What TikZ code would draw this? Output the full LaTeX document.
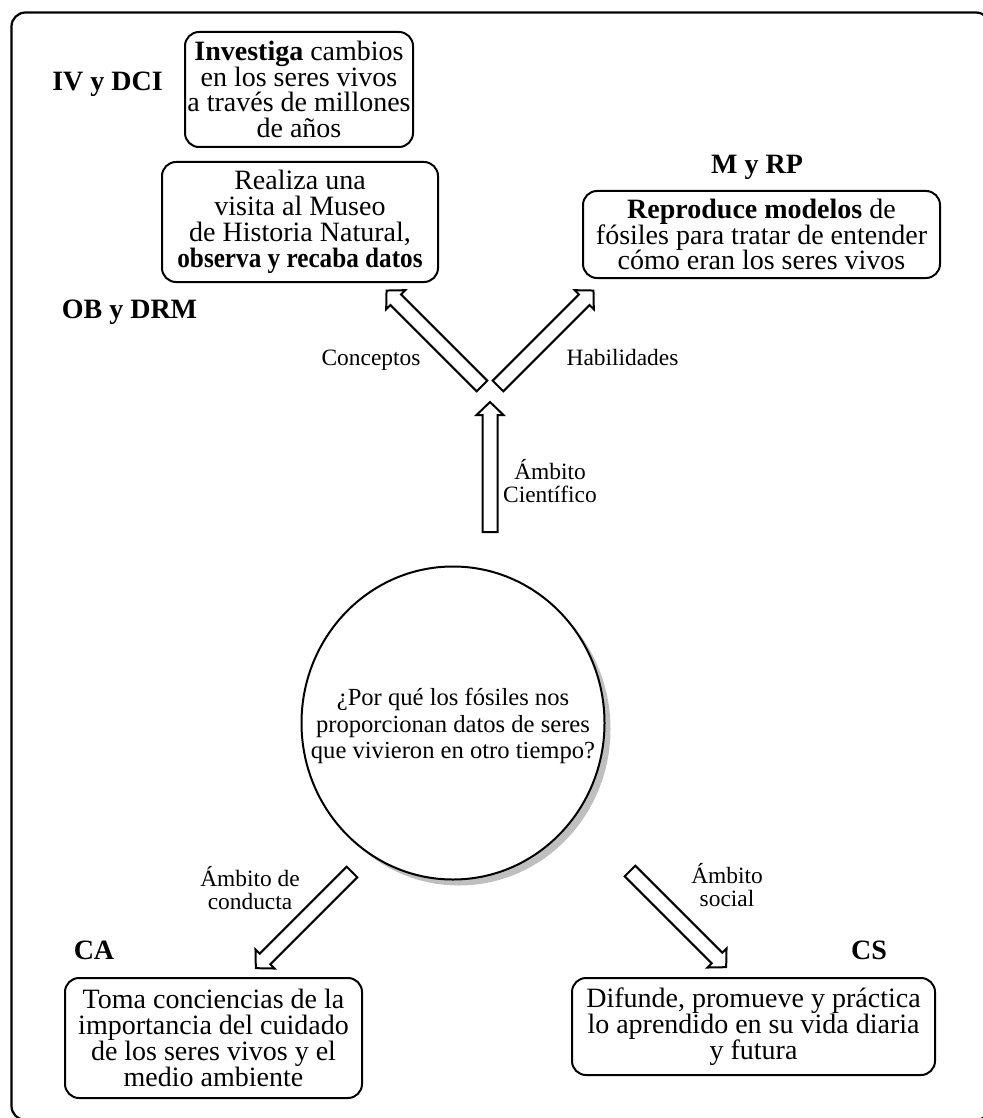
\documentclass[tikz,border=0pt]{standalone}
\usepackage{fontspec}
\usepackage{graphicx}
\setmainfont{Liberation Serif}
\usetikzlibrary{shapes.geometric,shadows}

\begin{document}
\begin{tikzpicture}[x=0.5pt,y=-0.5pt,
  box/.style={draw, line width=1pt, rounded corners=7pt, align=center,
    inner sep=0pt, fill=white, font=\fontsize{14}{12.9}\selectfont},
  tag/.style={anchor=base, font=\fontsize{14}{14}\selectfont\bfseries},
  lbl/.style={align=center, font=\fontsize{11.7}{11.5}\selectfont},
  arrowline/.style={draw, line width=1pt, fill=white, line join=miter},
  pics/blockarrow/.style={code={
    \path[arrowline] (0pt,-3.75pt) -- ({#1-6.5pt},-3.75pt) -- ({#1-6.5pt},-6.75pt)
      -- (#1,0pt) -- ({#1-6.5pt},6.75pt) -- ({#1-6.5pt},3.75pt) -- (0pt,3.75pt) -- cycle;}}
]
\useasboundingbox (0,0) rectangle (983,1118);
\clip (0,0) rectangle (983,1118);

% outer frame
\draw[line width=1.1pt, rounded corners=7pt] (11.5,12.5) rectangle (990,1120);

% top boxes
\node[box, minimum width=114pt, minimum height=57.5pt] (investiga) at (299,89.5)
  {\textbf{Investiga} cambios\\en los seres vivos\\a través de millones\\de años};
\node[box, minimum width=138pt, minimum height=60pt] (realiza) at (300,222)
  {Realiza una\\visita al Museo\\de Historia Natural,\\\scalebox{0.9}[1]{\textbf{observa y recaba datos}}};
\node[box, minimum width=178.5pt, minimum height=43.5pt] (reproduce) at (761.5,234.5)
  {\textbf{Reproduce modelos} de\\fósiles para tratar de entender\\cómo eran los seres vivos};

% bottom boxes
\node[box, minimum width=148.5pt, minimum height=60pt] (toma) at (213.5,1038)
  {Toma conciencias de la\\importancia del cuidado\\de los seres vivos y el\\medio ambiente};
\node[box, minimum width=181.5pt, minimum height=48.5pt] (difunde) at (753.5,1026.5)
  {Difunde, promueve y práctica\\lo aprendido en su vida diaria\\y futura};

% central question: the round outline with its shadow, then its text
\node[ellipse, draw, line width=1pt, fill=white, minimum width=151.5pt,
  minimum height=156.5pt, inner sep=0pt,
  drop shadow={shadow xshift=3pt, shadow yshift=-3pt, fill=black!25, opacity=1}]
  (pregunta) at (453,723) {};
\node[align=center, inner sep=0pt, font=\fontsize{12.3}{13.25}\selectfont]
  (preguntaTexto) at (453,726)
  {¿Por qué los fósiles nos\\proporcionan datos de seres\\que vivieron en otro tiempo?};

% bold tags
\node[tag] (ivdci) at (107.5,91) {IV y DCI};
\node[tag] (obdrm) at (129.5,318) {OB y DRM};
\node[tag] (myrp) at (757,174) {M y RP};
\node[tag] (ca) at (94,959) {CA};
\node[tag] (cs) at (869,959) {CS};

% block arrows
\coordinate (hubL) at (482,386);
\coordinate (hubR) at (498,386);
\coordinate (hubB) at (490,532);
\coordinate (outL) at (352,872);
\coordinate (outR) at (630,871);
\pic[rotate=135] (conceptosArrow) at (hubL) {blockarrow=67.5pt};
\pic[rotate=45] (habilidadesArrow) at (hubR) {blockarrow=67.5pt};
\pic[rotate=90] (cientificoArrow) at (hubB) {blockarrow=65pt};
\pic[rotate=225] (conductaArrow) at (outL) {blockarrow=68pt};
\pic[rotate=-45] (socialArrow) at (outR) {blockarrow=68pt};

% arrow labels
\node[lbl, anchor=base] (conceptos) at (371,365) {Conceptos};
\node[lbl, anchor=base] (habilidades) at (622.5,365) {Habilidades};
\node[lbl] (cientifico) at (550,481) {Ámbito\\Científico};
\node[lbl] (conducta) at (250,888) {Ámbito de\\conducta};
\node[lbl] (social) at (727,885) {Ámbito\\social};
\end{tikzpicture}
\end{document}
